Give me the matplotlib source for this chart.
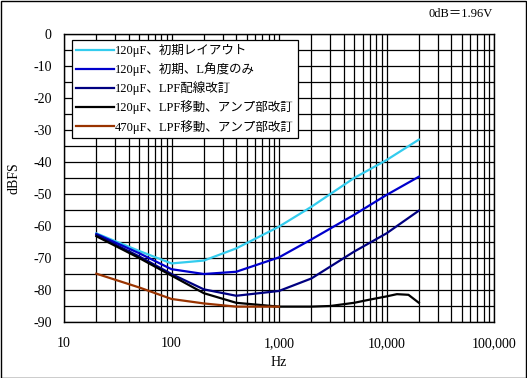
import numpy as np
import matplotlib.pyplot as plt
from matplotlib.ticker import FixedLocator, NullFormatter, FuncFormatter

plt.rcParams['font.family'] = ['Liberation Serif', 'Noto Sans CJK JP']
plt.rcParams['axes.unicode_minus'] = False

# 周波数 (Hz)
freq = [20, 50, 100, 200, 400, 1000, 2000, 5000, 10000, 20000]
freq_black = [20, 50, 100, 200, 400, 1000, 2000, 3000, 5000, 7000, 10000, 12500, 16000, 20000]
freq_brown = [20, 50, 100, 200, 400, 1000]

# 測定値 (dBFS)
cyan_db = [-62.3, -67.8, -71.7, -70.8, -67.0, -60.2, -54.0, -45.0, -39.4, -33.0]
blue_db = [-62.5, -68.5, -73.5, -75.0, -74.3, -69.8, -64.2, -56.5, -50.3, -44.6]
navy_db = [-62.8, -69.5, -75.0, -79.8, -81.8, -80.3, -76.4, -68.0, -62.3, -55.2]
black_db = [-63.2, -70.0, -75.5, -81.0, -84.0, -85.2, -85.2, -85.0, -84.0, -83.0,
            -82.0, -81.3, -81.5, -84.0]
brown_db = [-74.9, -79.2, -82.8, -84.2, -85.2, -85.2]

labels = ['120μF、初期レイアウト', '120μF、初期、L角度のみ', '120μF、LPF配線改訂',
          '120μF、LPF移動、アンプ部改訂', '470μF、LPF移動、アンプ部改訂']

fig = plt.figure(figsize=(5.27, 3.78), dpi=100)
ax = fig.add_axes([64 / 527, 1 - 322 / 378, 430 / 527, 288 / 378])

ax.plot(freq, cyan_db, color='#33CCEE', lw=1.6, label=labels[0])
ax.plot(freq, blue_db, color='#0000CC', lw=1.6, label=labels[1])
ax.plot(freq, navy_db, color='#000080', lw=1.6, label=labels[2])
ax.plot(freq_black, black_db, color='black', lw=1.6, label=labels[3])
ax.plot(freq_brown, brown_db, color='#993300', lw=1.6, label=labels[4])

ax.set_xscale('log')
ax.set_xlim(10, 100000)
ax.set_ylim(-90, 0)
ax.xaxis.set_major_locator(FixedLocator([10, 100, 1000, 10000, 100000]))
ax.xaxis.set_minor_locator(FixedLocator([m * 10 ** k for k in range(1, 5) for m in range(2, 10)]))
ax.xaxis.set_minor_formatter(NullFormatter())
ax.xaxis.set_major_formatter(FuncFormatter(lambda v, p: f'{int(round(v)):,}'))
ax.yaxis.set_major_locator(FixedLocator(np.arange(-90, 1, 10)))
ax.yaxis.set_minor_locator(FixedLocator(np.arange(-85, 0, 10)))
ax.grid(True, which='both', color='black', lw=0.9)
ax.tick_params(which='both', length=0, labelsize=10)
ax.tick_params(axis='x', pad=11)
ax.tick_params(axis='y', pad=9)
for s in ax.spines.values():
    s.set_linewidth(1)

ax.set_xlabel('Hz', fontsize=10, labelpad=4)
ax.set_ylabel('dBFS', fontsize=10)
ax.yaxis.set_label_coords(-0.1, 0.5)

leg = ax.legend(loc='upper left', bbox_to_anchor=(0.018, 0.98), fontsize=9,
                frameon=True, fancybox=False, framealpha=1, edgecolor='black',
                handlelength=3.0, handletextpad=0.1, borderpad=0.35, labelspacing=0.42,
                borderaxespad=0)
leg.get_frame().set_linewidth(0.9)

fig.text(461 / 527, 1 - 14 / 378, '0dB＝1.96V', fontsize=9, ha='center', va='center')

fig.patches.append(plt.Rectangle((0.001, 0.001), 0.997, 0.997, transform=fig.transFigure,
                                 fill=False, edgecolor='black', lw=1))

fig.savefig('out.png', dpi=100)
